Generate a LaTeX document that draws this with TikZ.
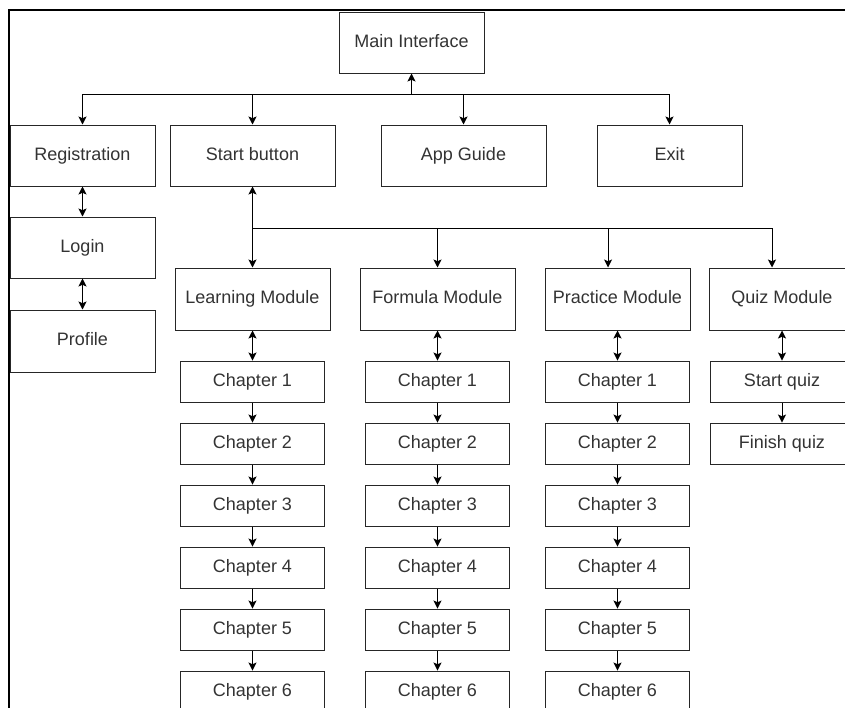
\documentclass[tikz,border=0pt]{standalone}
\usepackage{fontspec}
\setmainfont{Liberation Sans}
\usepackage{tikz}
\usetikzlibrary{arrows.meta, positioning}

\begin{document}
\begin{tikzpicture}[x=0.75pt, y=-0.75pt, line width=0.75pt,
    >={Stealth[length=6pt, width=6pt, inset=1.3pt]},
    every node/.style={font=\fontsize{13.5}{16}\selectfont, text=black!80, text height=9.8pt, text depth=2.6pt},
    box/.style={rectangle, draw=black!85, minimum width=108.75pt, minimum height=45.75pt, inner sep=0pt},
    module/.style={box, minimum height=46.5pt},
    chap/.style={box, minimum width=108pt, minimum height=30.75pt},
    node distance=46.5pt]
    \useasboundingbox (0,0) rectangle (845,707);
    \clip (0,0) rectangle (845,707);
    \draw[line width=1.6pt] (9,720) -- (9,10) -- (860,10);

    \node (main) [box] at (411.5,42.5) {Main Interface};
    \node (reg) [box] at (82.5,155.5) {Registration};
    \node (start) [box, minimum width=123.75pt] at (252.5,155.5) {Start button};
    \node (guide) [box, minimum width=123.75pt] at (463.5,155.5) {App Guide};
    \node (exit) [box] at (669.5,155.5) {Exit};
    \node (login) [box] at (82.5,247.5) {Login};
    \node (profile) [module] at (82.5,341) {Profile};

    \node (learn) [module, minimum width=116.25pt] at (252.5,299) {Learning Module};
    \node (formula) [module, minimum width=116.25pt] at (437.5,299) {Formula Module};
    \node (practice) [module] at (617.5,299) {Practice Module};
    \node (quiz) [module] at (782,299) {Quiz Module};

    \node (learn1) [chap, below of=learn, node distance=61.9pt] {Chapter 1};
    \node (learn2) [chap, below of=learn1] {Chapter 2};
    \node (learn3) [chap, below of=learn2] {Chapter 3};
    \node (learn4) [chap, below of=learn3] {Chapter 4};
    \node (learn5) [chap, below of=learn4] {Chapter 5};
    \node (learn6) [chap, below of=learn5] {Chapter 6};

    \node (form1) [chap, below of=formula, node distance=61.9pt] {Chapter 1};
    \node (form2) [chap, below of=form1] {Chapter 2};
    \node (form3) [chap, below of=form2] {Chapter 3};
    \node (form4) [chap, below of=form3] {Chapter 4};
    \node (form5) [chap, below of=form4] {Chapter 5};
    \node (form6) [chap, below of=form5] {Chapter 6};

    \node (prac1) [chap, below of=practice, node distance=61.9pt] {Chapter 1};
    \node (prac2) [chap, below of=prac1] {Chapter 2};
    \node (prac3) [chap, below of=prac2] {Chapter 3};
    \node (prac4) [chap, below of=prac3] {Chapter 4};
    \node (prac5) [chap, below of=prac4] {Chapter 5};
    \node (prac6) [chap, below of=prac5] {Chapter 6};

    \node (quizstart) [chap, below of=quiz, node distance=61.9pt] {Start quiz};
    \node (quizend) [chap, below of=quizstart] {Finish quiz};

    \coordinate (topbus) at (411.5,94);
    \coordinate (modbus) at (252.5,228);
    \coordinate (pracin) at ([xshift=-7.1pt]practice.north);
    \coordinate (quizin) at ([xshift=-7.5pt]quiz.north);

    \draw[->] (topbus) -- (main);
    \draw[->] (topbus) -| (reg);
    \draw[->] (topbus) -| (start);
    \draw[->] (topbus) -| (guide);
    \draw[->] (topbus) -| (exit);
    \draw[<->] (reg) -- (login);
    \draw[<->] (login) -- (profile);
    \draw[<->] (start) -- (learn);
    \draw[->] (modbus) -| (formula);
    \draw[->] (modbus) -| (pracin);
    \draw[->] (modbus) -| (quizin);

    \draw[<->] (learn) -- (learn1);
    \draw[->] (learn1) -- (learn2);
    \draw[->] (learn2) -- (learn3);
    \draw[->] (learn3) -- (learn4);
    \draw[->] (learn4) -- (learn5);
    \draw[->] (learn5) -- (learn6);
    \draw[<->] (formula) -- (form1);
    \draw[->] (form1) -- (form2);
    \draw[->] (form2) -- (form3);
    \draw[->] (form3) -- (form4);
    \draw[->] (form4) -- (form5);
    \draw[->] (form5) -- (form6);
    \draw[<->] (practice) -- (prac1);
    \draw[->] (prac1) -- (prac2);
    \draw[->] (prac2) -- (prac3);
    \draw[->] (prac3) -- (prac4);
    \draw[->] (prac4) -- (prac5);
    \draw[->] (prac5) -- (prac6);
    \draw[<->] (quiz) -- (quizstart);
    \draw[->] (quizstart) -- (quizend);
\end{tikzpicture}
\end{document}
